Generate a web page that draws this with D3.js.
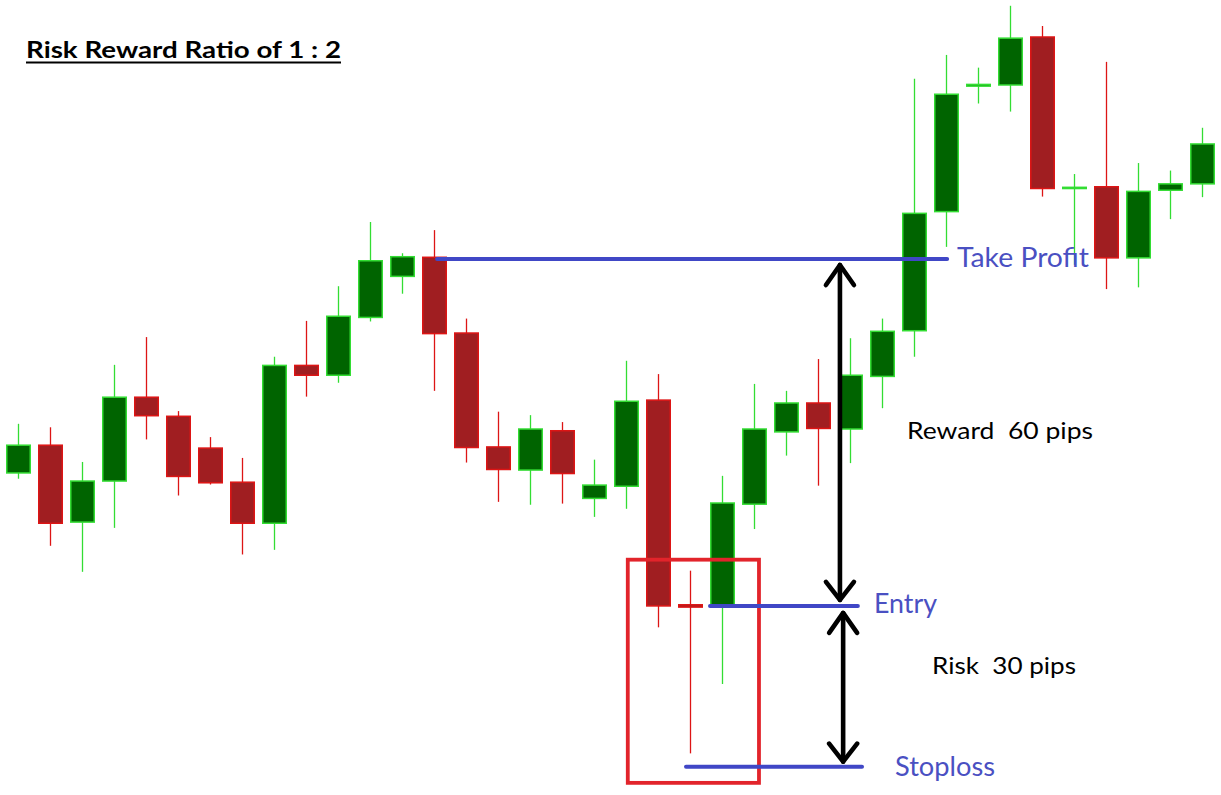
<!DOCTYPE html>
<html>
<head>
<meta charset="utf-8">
<script src="https://cdn.jsdelivr.net/npm/d3@7"></script>
<style>
  html, body { margin: 0; padding: 0; background: #ffffff; }
  svg { display: block; }
  text { white-space: pre; }
</style>
</head>
<body>
<svg id="chart" width="1221" height="795"></svg>
<script>
// ---- DATA (prices, EURUSD-like, 5 decimals) ----
const candleIndex = d3.range(38);
const opens  = [1.30230,1.30278,1.30145,1.30216,1.30361,1.30328,1.30273,1.30214,1.30143,1.30416,
                1.30399,1.30499,1.30570,1.30603,1.30472,1.30275,1.30235,1.30303,1.30186,1.30207,
                1.30356,1.30002,1.30000,1.30176,1.30301,1.30351,1.30306,1.30397,1.30476,1.30682,
                1.30899,1.30901,1.30984,1.30722,1.30725,1.30602,1.30719,1.30730];
const highs  = [1.30315,1.30309,1.30249,1.30417,1.30465,1.30337,1.30292,1.30256,1.30431,1.30493,
                1.30553,1.30664,1.30610,1.30650,1.30497,1.30336,1.30330,1.30318,1.30253,1.30424,
                1.30401,1.30061,1.30225,1.30384,1.30372,1.30427,1.30463,1.30497,1.30912,1.30953,
                1.30931,1.31038,1.31003,1.30747,1.30941,1.30766,1.30753,1.30827];
const lows   = [1.30220,1.30104,1.30059,1.30135,1.30288,1.30191,1.30210,1.30089,1.30097,1.30362,
                1.30386,1.30492,1.30540,1.30372,1.30248,1.30180,1.30175,1.30177,1.30154,1.30168,
                1.29963,1.29745,1.29865,1.30133,1.30260,1.30208,1.30247,1.30342,1.30431,1.30621,
                1.30869,1.30855,1.30708,1.30590,1.30548,1.30551,1.30669,1.30707];
const closes = [1.30278,1.30143,1.30216,1.30361,1.30329,1.30224,1.30213,1.30143,1.30416,1.30399,
                1.30501,1.30597,1.30604,1.30471,1.30274,1.30236,1.30306,1.30229,1.30209,1.30354,
                1.30000,1.29998,1.30178,1.30306,1.30351,1.30307,1.30399,1.30475,1.30679,1.30885,
                1.30902,1.30982,1.30722,1.30724,1.30602,1.30717,1.30730,1.30799];

const titleText = "Risk Reward Ratio of 1 : 2";
const levelNames  = ["Take Profit", "Entry", "Stoploss"];
const levelPrices = [1.30600, 1.30000, 1.29722];
const levelSpans  = [[13.08, 29.02], [21.61, 26.23], [20.86, 26.36]]; // in candle-index units
const rewardText = "Reward  60 pips";
const riskText   = "Risk  30 pips";
const boxIndexSpan = [19.04, 23.14];
const boxPriceSpan = [1.29694, 1.30080];

// ---- SCALES ----
const W = 1221, H = 795;
const x = d3.scaleLinear().domain([0, 37]).range([18.5, 1202.5]);
const y = d3.scaleLinear().domain([1.29673, 1.31048]).range([795, 0]);

const svg = d3.select("#chart");
svg.append("rect").attr("width", W).attr("height", H).attr("fill", "#ffffff");

const candles = candleIndex.map(i => ({ i, o: opens[i], h: highs[i], l: lows[i], c: closes[i] }));

const upFill = "#006400", upEdge = "#33dd33";
const dnFill = "#a01e21", dnEdge = "#dd1515";

const g = svg.append("g");
// wicks
g.selectAll("line.wick").data(candles).join("line")
  .attr("class", "wick")
  .attr("x1", d => x(d.i)).attr("x2", d => x(d.i))
  .attr("y1", d => y(d.h)).attr("y2", d => y(d.l))
  .attr("stroke", d => d.c >= d.o ? upEdge : dnEdge)
  .attr("stroke-width", 1.3);
// bodies
const bw = 23.5;
g.selectAll("rect.body").data(candles).join("rect")
  .attr("class", "body")
  .attr("x", d => x(d.i) - bw / 2)
  .attr("width", bw)
  .attr("y", d => y(Math.max(d.o, d.c)))
  .attr("height", d => Math.max(1.2, Math.abs(y(d.o) - y(d.c))))
  .attr("fill", d => d.c >= d.o ? upFill : dnFill)
  .attr("stroke", d => d.c >= d.o ? upEdge : dnEdge)
  .attr("stroke-width", 1.5);

// red highlight box
svg.append("rect")
  .attr("x", x(boxIndexSpan[0]))
  .attr("y", y(boxPriceSpan[1]))
  .attr("width", x(boxIndexSpan[1]) - x(boxIndexSpan[0]))
  .attr("height", y(boxPriceSpan[0]) - y(boxPriceSpan[1]))
  .attr("fill", "none")
  .attr("stroke", "#e2242b")
  .attr("stroke-width", 3.8);

// level lines
const blue = "#4047c6";
levelPrices.forEach((p, k) => {
  svg.append("line")
    .attr("x1", x(levelSpans[k][0])).attr("x2", x(levelSpans[k][1]))
    .attr("y1", y(p)).attr("y2", y(p))
    .attr("stroke", blue).attr("stroke-width", 4).attr("stroke-linecap", "round");
});

// arrows
function arrow(ax, yTop, yBot) {
  const ga = svg.append("g").attr("stroke", "#000").attr("stroke-width", 4.6)
    .attr("fill", "none").attr("stroke-linecap", "round").attr("stroke-linejoin", "round");
  ga.append("line").attr("x1", ax).attr("x2", ax).attr("y1", yTop).attr("y2", yBot);
  ga.append("polyline").attr("points", `${ax - 14},${yTop + 20} ${ax},${yTop} ${ax + 14},${yTop + 20}`);
  ga.append("polyline").attr("points", `${ax - 14},${yBot - 18} ${ax},${yBot} ${ax + 14},${yBot - 18}`);
}
arrow(x(25.67), y(levelPrices[0]) + 6, y(levelPrices[1]) - 6);
arrow(x(25.77), y(levelPrices[1]) + 7, y(levelPrices[2]) - 5);

// labels
const lab = svg.append("g").attr("font-family", "Lato, 'Open Sans', sans-serif");
const labelX = [957, 874, 895];
const labelDY = [8, 7, 9];
const labelLen = [132, 63, 100];
levelNames.forEach((t, k) => {
  lab.append("text")
    .attr("x", labelX[k]).attr("y", y(levelPrices[k]) + labelDY[k])
    .attr("font-size", 26).attr("fill", "#4a50c2")
    .attr("textLength", labelLen[k]).attr("lengthAdjust", "spacingAndGlyphs")
    .text(t);
});
lab.append("text").attr("x", 907).attr("y", 439).attr("font-size", 24).attr("fill", "#000")
  .attr("textLength", 186).attr("lengthAdjust", "spacingAndGlyphs").text(rewardText);
lab.append("text").attr("x", 932).attr("y", 674).attr("font-size", 24).attr("fill", "#000")
  .attr("textLength", 144).attr("lengthAdjust", "spacingAndGlyphs").text(riskText);

// title
lab.append("text").attr("x", 26).attr("y", 58).attr("font-size", 22).attr("font-weight", "bold")
  .attr("fill", "#000").attr("textLength", 315).attr("lengthAdjust", "spacingAndGlyphs").text(titleText);
svg.append("line").attr("x1", 26).attr("x2", 341).attr("y1", 62.5).attr("y2", 62.5)
  .attr("stroke", "#000").attr("stroke-width", 2.2);
</script>
</body>
</html>
